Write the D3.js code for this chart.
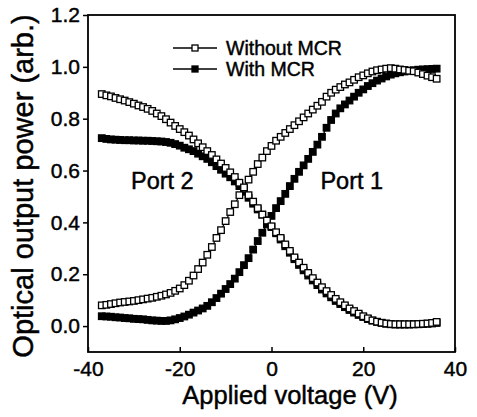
<!DOCTYPE html>
<html>
<head>
<meta charset="utf-8">
<script src="https://cdn.jsdelivr.net/npm/d3@7"></script>
<style>
  body { margin: 0; background: #fff; }
  text { font-family: "Liberation Sans", Arial, sans-serif; fill: #000; stroke: #000; stroke-width: 0.45px; }
</style>
</head>
<body>
<div id="chart"></div>
<script>
// applied voltage (V), one reading per volt
const voltage = [-37,-36,-35,-34,-33,-32,-31,-30,-29,-28,-27,-26,-25,-24,-23,-22,-21,
  -20,-19,-18,-17,-16,-15,-14,-13,-12,-11,-10,-9,-8,-7,-6,-5,-4,-3,-2,-1,
  0,1,2,3,4,5,6,7,8,9,10,11,12,13,14,15,16,17,18,19,20,21,22,23,24,25,26,27,28,29,30,31,32,33,34,35,36];

// port 1, without MCR (open squares)
const port1Without = [0.080,0.082,0.085,0.088,0.091,0.093,0.095,0.097,0.100,0.103,0.106,0.109,0.113,0.117,0.122,0.128,0.136,
  0.145,0.158,0.175,0.195,0.220,0.245,0.275,0.305,0.340,0.370,0.405,0.440,0.470,0.505,0.535,0.565,0.595,0.625,0.650,0.675,
  0.695,0.715,0.730,0.745,0.760,0.775,0.790,0.805,0.820,0.835,0.850,0.865,0.885,0.900,0.912,0.922,0.932,0.940,0.950,0.960,0.967,0.975,0.982,0.987,0.990,0.993,0.995,0.993,0.990,0.988,0.985,0.983,0.978,0.972,0.966,0.960,0.954];

// port 1, with MCR (filled squares)
const port1With = [0.038,0.037,0.036,0.034,0.033,0.031,0.030,0.028,0.027,0.026,0.024,0.022,0.021,0.020,0.020,0.022,0.026,
  0.031,0.037,0.044,0.052,0.060,0.068,0.078,0.092,0.108,0.125,0.143,0.162,0.183,0.208,0.235,0.262,0.295,0.328,0.360,0.392,
  0.425,0.455,0.482,0.510,0.540,0.568,0.595,0.620,0.645,0.672,0.700,0.730,0.765,0.795,0.820,0.840,0.855,0.870,0.885,0.900,0.913,0.926,0.937,0.947,0.955,0.963,0.970,0.975,0.979,0.982,0.985,0.987,0.989,0.990,0.991,0.992,0.993];

// port 2, without MCR (open squares)
const port2Without = [0.895,0.890,0.886,0.880,0.875,0.870,0.864,0.858,0.851,0.845,0.838,0.830,0.820,0.810,0.798,0.785,0.772,
  0.760,0.748,0.735,0.720,0.705,0.690,0.675,0.660,0.643,0.627,0.610,0.593,0.575,0.553,0.530,0.505,0.480,0.455,0.430,0.407,
  0.385,0.362,0.340,0.315,0.290,0.265,0.245,0.225,0.205,0.185,0.168,0.150,0.135,0.120,0.105,0.092,0.080,0.068,0.058,0.048,0.038,0.030,0.022,0.017,0.013,0.010,0.008,0.007,0.007,0.007,0.007,0.007,0.008,0.009,0.010,0.012,0.016];

// port 2, with MCR (filled squares)
const port2With = [0.725,0.722,0.720,0.719,0.718,0.717,0.717,0.716,0.716,0.715,0.715,0.714,0.713,0.712,0.710,0.707,0.702,
  0.696,0.688,0.682,0.675,0.665,0.655,0.645,0.632,0.617,0.603,0.588,0.574,0.558,0.540,0.518,0.495,0.472,0.450,0.430,0.408,
  0.382,0.358,0.334,0.308,0.283,0.258,0.236,0.215,0.195,0.176,0.158,0.141,0.126,0.111,0.097,0.085,0.073,0.062,0.052,0.043,0.035,0.027,0.021,0.016,0.012,0.009,0.007,0.006,0.006,0.006,0.006,0.007,0.007,0.008,0.009,0.010,0.012];

const xTicks = [-40, -20, 0, 20, 40];
const yTicks = [0.0, 0.2, 0.4, 0.6, 0.8, 1.0, 1.2];
const legendNames = ["Without MCR", "With MCR"];
const portLabels = [{text: "Port 2", v: -23.8, p: 0.565}, {text: "Port 1", v: 17.5, p: 0.565}];

var width = 477, height = 417;
var margin = {top: 15, right: 22, bottom: 65, left: 88};

var svg = d3.select("#chart").append("svg")
    .attr("width", width)
    .attr("height", height);

var x = d3.scaleLinear().domain([-40, 40]).range([margin.left, width - margin.right]);
var y = d3.scaleLinear().domain([-0.1, 1.2]).range([height - margin.bottom, margin.top]);

// axes (left ticks point out, bottom ticks point in)
var yAxis = svg.append("g")
    .attr("transform", "translate(" + margin.left + ",0)")
    .call(d3.axisLeft(y).tickValues(yTicks).tickFormat(d3.format(".1f")).tickSize(5).tickPadding(3));

var xAxis = svg.append("g")
    .attr("transform", "translate(0," + (height - margin.bottom) + ")")
    .call(d3.axisBottom(x).tickValues(xTicks).tickFormat(d3.format("d")).tickSize(-5).tickPadding(9));

[xAxis, yAxis].forEach(a => {
    a.select(".domain").remove();
    a.selectAll("line").attr("stroke", "#000").attr("stroke-width", 1.5);
    a.selectAll("text")
        .attr("font-family", "'Liberation Sans', Arial, sans-serif")
        .attr("font-size", 21)
        .attr("fill", "#000");
});
xAxis.selectAll("text").text(d => d < 0 ? "-" + Math.abs(d) : d);

// frame
svg.append("rect")
    .attr("x", x(-40))
    .attr("y", y(1.2))
    .attr("width", x(40) - x(-40))
    .attr("height", y(-0.1) - y(1.2))
    .attr("fill", "none")
    .attr("stroke", "#000")
    .attr("stroke-width", 1.8);

// axis titles
svg.append("text")
    .attr("x", 290)
    .attr("y", 404)
    .attr("text-anchor", "middle")
    .attr("font-size", 25.5)
    .text("Applied voltage (V)");

svg.append("text")
    .attr("transform", "translate(33,186) rotate(-90)")
    .attr("text-anchor", "middle")
    .attr("font-size", 29)
    .text("Optical output power (arb.)");

var series = [
    {values: port1With, filled: true},
    {values: port2With, filled: true},
    {values: port2Without, filled: false},
    {values: port1Without, filled: false}
];

var line = d3.line()
    .x((d, i) => x(voltage[i]))
    .y(d => y(d));

var ms = 6.5;

series.forEach(s => {
    var g = svg.append("g");
    g.append("path")
        .attr("d", line(s.values))
        .attr("fill", "none")
        .attr("stroke", "#000")
        .attr("stroke-width", 1.2);
    g.selectAll("rect")
        .data(s.values)
        .enter().append("rect")
        .attr("x", (d, i) => x(voltage[i]) - ms / 2)
        .attr("y", d => y(d) - ms / 2)
        .attr("width", ms)
        .attr("height", ms)
        .attr("fill", s.filled ? "#000" : "#fff")
        .attr("stroke", "#000")
        .attr("stroke-width", 1.3);
});

// legend
var legend = svg.append("g");
legendNames.forEach((name, i) => {
    var ly = 48 + i * 21;
    legend.append("line")
        .attr("x1", 173).attr("x2", 217)
        .attr("y1", ly).attr("y2", ly)
        .attr("stroke", "#000")
        .attr("stroke-width", 1.5);
    legend.append("rect")
        .attr("x", 195 - 3).attr("y", ly - 3)
        .attr("width", 6).attr("height", 6)
        .attr("fill", i == 0 ? "#fff" : "#000")
        .attr("stroke", "#000")
        .attr("stroke-width", 1.3);
    legend.append("text")
        .attr("x", 226)
        .attr("y", ly + 7)
        .attr("font-size", 19.5)
        .text(name);
});

// port labels
svg.selectAll(".port")
    .data(portLabels)
    .enter().append("text")
    .attr("class", "port")
    .attr("x", d => x(d.v))
    .attr("y", d => y(d.p) + 9)
    .attr("text-anchor", "middle")
    .attr("font-size", 23.5)
    .text(d => d.text);
</script>
</body>
</html>
